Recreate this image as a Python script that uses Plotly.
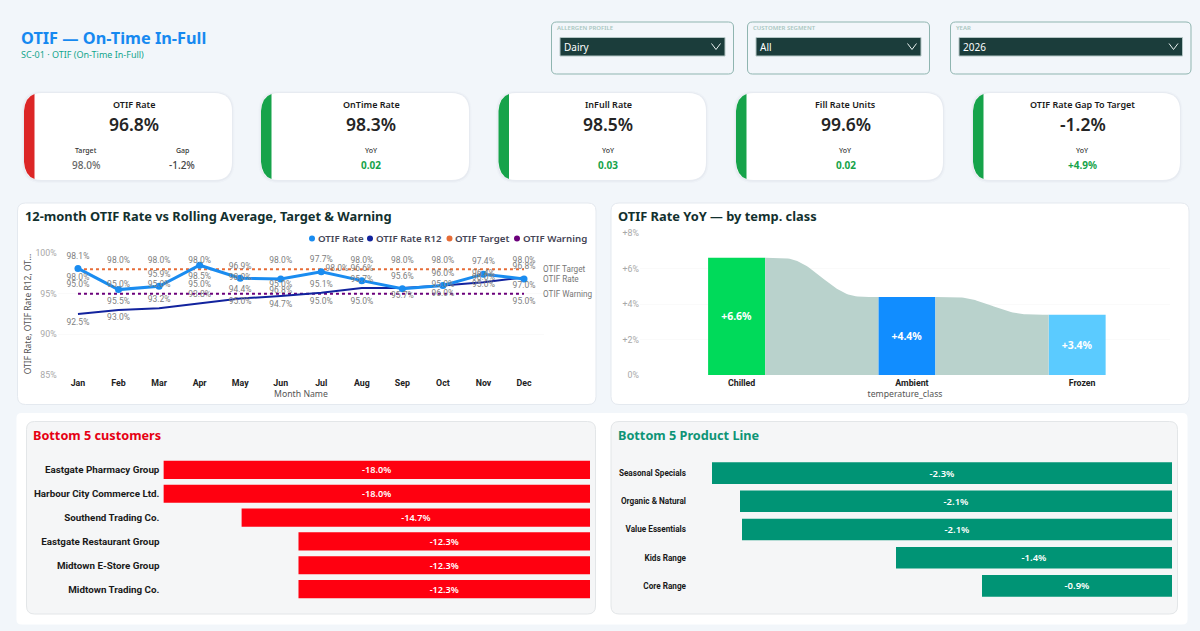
import numpy as np
import plotly.graph_objects as go

# ---------- data ----------
months = ["Jan", "Feb", "Mar", "Apr", "May", "Jun", "Jul", "Aug", "Sep", "Oct", "Nov", "Dec"]
otif_rate = [98.1, 95.5, 95.9, 98.5, 96.9, 96.8, 97.7, 96.6, 95.6, 96.0, 97.4, 96.8]
otif_r12 = [92.5, 93.0, 93.2, 93.8, 94.4, 94.7, 95.1, 95.7, 95.7, 96.0, 96.4, 97.0]
otif_target = [98.0] * 12
otif_warning = [95.0] * 12

temp_classes = ["Chilled", "Ambient", "Frozen"]
temp_yoy = [6.6, 4.4, 3.4]

customers = ["Eastgate Pharmacy Group", "Harbour City Commerce Ltd.", "Southend Trading Co.",
             "Eastgate Restaurant Group", "Midtown E-Store Group", "Midtown Trading Co."]
customer_vals = [-18.0, -18.0, -14.7, -12.3, -12.3, -12.3]

product_lines = ["Seasonal Specials", "Organic & Natural", "Value Essentials", "Kids Range", "Core Range"]
product_vals = [-2.3, -2.16, -2.15, -1.38, -0.95]
product_labels = ["-2.3%", "-2.1%", "-2.1%", "-1.4%", "-0.9%"]

kpi_titles = ["OTIF Rate", "OnTime Rate", "InFull Rate", "Fill Rate Units", "OTIF Rate Gap To Target"]
kpi_values = ["96.8%", "98.3%", "98.5%", "99.6%", "-1.2%"]
kpi_yoy = [None, "0.02", "0.03", "0.02", "+4.9%"]

filter_labels = ["ALLERGEN PROFILE", "CUSTOMER SEGMENT", "YEAR"]
filter_values = ["Dairy", "All", "2026"]

# ---------- layout helpers ----------
W, H = 1200, 631
FONT = "Noto Sans"
NARROW = "Roboto"
px = lambda v: v / W
py = lambda v: 1 - v / H
shapes, annots = [], []


def rrect(x0, y0, x1, y1, r, fill, line=None, lw=1):
    p = (f"M {px(x0 + r)} {py(y0)} L {px(x1 - r)} {py(y0)} Q {px(x1)} {py(y0)} {px(x1)} {py(y0 + r)} "
         f"L {px(x1)} {py(y1 - r)} Q {px(x1)} {py(y1)} {px(x1 - r)} {py(y1)} L {px(x0 + r)} {py(y1)} "
         f"Q {px(x0)} {py(y1)} {px(x0)} {py(y1 - r)} L {px(x0)} {py(y0 + r)} Q {px(x0)} {py(y0)} {px(x0 + r)} {py(y0)} Z")
    shapes.append(dict(type="path", path=p, xref="paper", yref="paper", fillcolor=fill, layer="below",
                       line=dict(color=line or "rgba(0,0,0,0)", width=lw if line else 0)))


def band(x0, y0, y1, w, r, fill):
    p = (f"M {px(x0 + w)} {py(y0 + 1)} Q {px(x0 + 1)} {py(y0 + 4)} {px(x0)} {py(y0 + r)} L {px(x0)} {py(y1 - r)} "
         f"Q {px(x0 + 1)} {py(y1 - 4)} {px(x0 + w)} {py(y1 - 1)} Z")
    shapes.append(dict(type="path", path=p, xref="paper", yref="paper", fillcolor=fill, layer="below",
                       line=dict(width=0, color="rgba(0,0,0,0)")))


def txt(x, y, s, size, color, weight=400, anchor="center", family=FONT):
    annots.append(dict(text=s, x=px(x), y=py(y), xref="paper", yref="paper", showarrow=False,
                       xanchor=anchor, yanchor="middle", borderpad=0, borderwidth=0,
                       font=dict(family=family, size=size, color=color, weight=weight)))


# ---------- header ----------
txt(21, 38, "OTIF — On-Time In-Full", 16.3, "#1789F0", 700, "left")
txt(21, 54.5, "SC-01 · OTIF (On-Time In-Full)", 9, "#12A58C", 400, "left")

# ---------- filters ----------
filter_boxes = [(551.5, 733.5, 560, 725), (747.5, 929.5, 756, 921), (950.5, 1191, 959, 1182.5)]
for (x0, x1, bx0, bx1), lab, val in zip(filter_boxes, filter_labels, filter_values):
    rrect(x0, 22, x1, 74, 5, "rgba(255,255,255,0)", "#8FB5B0", 1)
    shapes.append(dict(type="rect", xref="paper", yref="paper", x0=px(bx0), x1=px(bx1), y0=py(37.5), y1=py(56),
                       fillcolor="#1B3D3B", line=dict(color="#B4C6C5", width=1), layer="below"))
    txt(x0 + 5.5, 28, lab, 6, "#A9C6C0", 600, "left")
    txt(bx0 + 3.5, 47.5, val, 10, "#FFFFFF", 400, "left")
    cx = bx1 - 9
    shapes.append(dict(type="path", xref="paper", yref="paper",
                       path=f"M {px(cx - 4.5)} {py(43.5)} L {px(cx)} {py(49.5)} L {px(cx + 4.5)} {py(43.5)}",
                       line=dict(color="#E8F0EF", width=1), fillcolor="rgba(0,0,0,0)"))

# ---------- KPI cards ----------
card_x = [(24, 232), (261, 469), (498.5, 706), (736, 943), (973, 1180)]
for i, ((x0, x1), title, value, yoy) in enumerate(zip(card_x, kpi_titles, kpi_values, kpi_yoy)):
    rrect(x0 - 2.5, 91, x1 + 2.5, 183, 20, "rgba(60,70,80,0.02)")
    rrect(x0 - 1.2, 92, x1 + 1.2, 181.8, 19, "rgba(60,70,80,0.035)")
    rrect(x0, 93, x1, 180, 18, "#FFFFFF")
    band(x0, 93, 180, 10.5, 18, "#DC2626" if i == 0 else "#16A34A")
    c = 134 if i == 0 else (x0 + x1) / 2 + 6
    txt(c, 105, title, 9, "#1A1A1A", 600)
    txt(c, 124, value, 17.5, "#252525", 600)
    if i == 0:
        txt(86, 151, "Target", 7, "#333333", 500)
        txt(86, 165, "98.0%", 10, "#666666", 500)
        txt(182.5, 151, "Gap", 7, "#333333", 500)
        txt(182.5, 165, "-1.2%", 10, "#444444", 500)
    else:
        txt(c, 151, "YoY", 7, "#333333", 500)
        txt(c, 165, yoy, 10, "#16A34A", 700)

# ---------- panels ----------
rrect(17.5, 203, 596, 404.5, 8, "#FFFFFF", "#E4E9EF", 1)
rrect(611, 203, 1189, 404.5, 8, "#FFFFFF", "#E4E9EF", 1)
rrect(16.5, 413, 1187.5, 624.5, 5, "#FFFFFF")
rrect(26.5, 421.5, 595.5, 614, 8, "#F5F6F7", "#E3E6E8", 1)
rrect(611, 421.5, 1177.5, 614, 8, "#F5F6F7", "#E3E6E8", 1)
txt(24.5, 216, "12-month OTIF Rate vs Rolling Average, Target & Warning", 12.85, "#12302E", 700, "left")
txt(618, 216, "OTIF Rate YoY — by temp. class", 12.85, "#12302E", 700, "left")
txt(33, 435, "Bottom 5 customers", 12.7, "#E60012", 700, "left")
txt(618, 435, "Bottom 5 Product Line", 12.7, "#0E9476", 700, "left")

# ---------- line chart ----------
C_RATE, C_R12, C_TGT, C_WARN = "#1A8CF0", "#12239E", "#E66C37", "#6B007B"
T, B, R = "top center", "bottom center", "middle right"
rate_pos = [T, B, T, B, T, B, T, T, T, T, T, T]
r12_pos = [B, B, T, T, T, B, T, T, B, B, T, B]
tgt_pos = [B, T, T, T, B, T, R, T, T, T, B, T]
warn_pos = [T, T, T, T, B, T, B, B, T, T, T, B]
LBL = dict(family=NARROW, size=8.5, color="#808080")


def pct(vals, skip=()):
    return ["" if i in skip else f"{v:.1f}%" for i, v in enumerate(vals)]


fig = go.Figure()
series = [
    ("OTIF Target", otif_target, C_TGT, 2, "3px 3px", tgt_pos, (), 5, 0),
    ("OTIF Warning", otif_warning, C_WARN, 2, "3px 3px", warn_pos, (8,), 5, 0),
    ("OTIF Rate R12", otif_r12, C_R12, 2, "solid", r12_pos, (), 5, 0),
    ("OTIF Rate", otif_rate, C_RATE, 3, "solid", rate_pos, (), 10.5, 7),
]
for name, vals, color, width, dash, pos, skip, _, msize in series:
    fig.add_trace(go.Scatter(x=months, y=vals, name=name, mode="lines+markers" if msize else "lines",
                             showlegend=False, line=dict(color=color, width=width, dash=dash),
                             marker=dict(color=color, size=msize or 6)))
for name, vals, color, width, dash, pos, skip, lsize, msize in series:
    fig.add_trace(go.Scatter(x=months, y=vals, name=name + " labels", mode="markers+text", text=pct(vals, skip),
                             textposition=pos, textfont=LBL, cliponaxis=False, showlegend=False,
                             marker=dict(color="rgba(0,0,0,0)", size=lsize), hoverinfo="skip"))
for name, y_val in [("OTIF Target", otif_target[-1]), ("OTIF Rate", otif_rate[-1]), ("OTIF Warning", otif_warning[-1])]:
    annots.append(dict(text=name, x="Dec", y=y_val, xref="x", yref="y", showarrow=False, xanchor="left",
                       xshift=19, yanchor="middle", borderpad=0, borderwidth=0,
                       font=dict(family=NARROW, size=8.2, color="#777777")))

legend_items = [("OTIF Rate", C_RATE, 312), ("OTIF Rate R12", C_R12, 370),
                ("OTIF Target", C_TGT, 449.5), ("OTIF Warning", C_WARN, 517)]
for name, color, x in legend_items:
    shapes.append(dict(type="circle", xref="paper", yref="paper", x0=px(x - 3), x1=px(x + 3),
                       y0=py(241.5), y1=py(235.5), fillcolor=color, line=dict(width=0, color=color)))
    txt(x + 5.5, 238.5, name, 9.7, "#444455", 600, "left")

# ---------- ribbon chart ----------
BAR_W, BAR_OFF = 0.335, -0.197
RIBBON = "#B9D2CC"
for i in range(len(temp_yoy) - 1):
    x0 = i + BAR_OFF + BAR_W
    x1 = i + 1 + BAR_OFF
    t = np.linspace(0, 1, 61)
    e = np.clip((t - 0.1) / 0.8, 0, 1)
    ease = 6 * e ** 5 - 15 * e ** 4 + 10 * e ** 3
    fig.add_trace(go.Scatter(x=x0 + (x1 - x0) * t, y=temp_yoy[i] + (temp_yoy[i + 1] - temp_yoy[i]) * ease,
                             mode="lines", line=dict(width=0, color=RIBBON),
                             fill="tozeroy", fillcolor=RIBBON, hoverinfo="skip", showlegend=False,
                             xaxis="x2", yaxis="y2"))
fig.add_trace(go.Bar(x=[0, 1, 2], y=temp_yoy, width=BAR_W, offset=BAR_OFF, xaxis="x2", yaxis="y2",
                     marker=dict(color=["#00DA5A", "#118DFF", "#5BCBFF"], line=dict(width=0)),
                     texttemplate="+%{y:.1f}%", textposition="inside", insidetextanchor="middle", textangle=0,
                     textfont=dict(family=FONT, size=10.5, color="#FFFFFF", weight=700), showlegend=False))

# ---------- bottom bars ----------
fig.add_trace(go.Bar(x=customer_vals, y=customers, orientation="h", xaxis="x3", yaxis="y3",
                     marker=dict(color="#FF0010", line=dict(width=0)), texttemplate="%{x:.1f}%",
                     textposition="inside", insidetextanchor="middle", textangle=0,
                     textfont=dict(family=FONT, size=10.5, color="#FFFFFF", weight=600), showlegend=False))
fig.add_trace(go.Bar(x=product_vals, y=product_lines, orientation="h", xaxis="x4", yaxis="y4",
                     marker=dict(color="#009475", line=dict(width=0)), text=product_labels,
                     textposition="inside", insidetextanchor="middle", textangle=0,
                     textfont=dict(family=FONT, size=9.5, color="#FFFFFF", weight=600), showlegend=False))

GRID = "#FAFAFA"
TICK_DARK = dict(family=NARROW, size=8.8, color="#222222", weight=700)
TICK_GREY = dict(family=NARROW, size=8.8, color="#A8A8A8")
TITLE_F = dict(family=FONT, size=8.7, color="#555555")

fig.update_layout(
    template="none",
    width=W, height=H, autosize=False, margin=dict(l=0, r=0, t=0, b=0, pad=0),
    paper_bgcolor="#F2F6FA", plot_bgcolor="rgba(0,0,0,0)", showlegend=False, barmode="overlay",
    shapes=shapes, annotations=annots, font=dict(family=FONT),
    xaxis=dict(domain=[px(57.7), px(544.3)], range=[-0.5, 11.5], type="category", showgrid=False, zeroline=False,
               tickfont=TICK_DARK, ticklen=0, ticklabelstandoff=1,
               title=dict(text="Month Name", font=TITLE_F, standoff=3), anchor="y"),
    yaxis=dict(domain=[py(375), py(253)], range=[85, 100], tickvals=[85, 90, 95, 100],
               ticktext=["85%", "90%", "95%", "100%"],
               gridcolor=GRID, zeroline=False, tickfont=TICK_GREY, ticklen=0, anchor="x",
               title=dict(text="OTIF Rate, OTIF Rate R12, OT...", font=dict(family=FONT, size=8.5, color="#555555"), standoff=2)),
    xaxis2=dict(domain=[px(640), px(1170)], range=[-0.597, 2.516], tickvals=[0, 1, 2], ticktext=temp_classes,
                showgrid=False, zeroline=False, tickfont=TICK_DARK, ticklen=0, ticklabelstandoff=1, anchor="y2",
                title=dict(text="temperature_class", font=TITLE_F, standoff=3)),
    yaxis2=dict(domain=[py(375), py(233)], range=[0, 8], tickvals=[0, 2, 4, 6, 8],
                ticktext=["0%", "+2%", "+4%", "+6%", "+8%"], gridcolor=GRID, zeroline=False,
                tickfont=TICK_GREY, ticklen=0, anchor="x2"),
    xaxis3=dict(domain=[px(163.4), px(590)], range=[-18, 0], visible=False, anchor="y3"),
    yaxis3=dict(domain=[py(601), py(458)], type="category", autorange="reversed", showgrid=False, zeroline=False,
                showline=False, tickfont=dict(family=NARROW, size=9.8, color="#1A1A1A", weight=700), ticklen=0,
                ticklabelstandoff=3, anchor="x3"),
    xaxis4=dict(domain=[px(712), px(1172)], range=[-2.3, 0], visible=False, anchor="y4"),
    yaxis4=dict(domain=[py(600), py(459)], type="category", autorange="reversed", showgrid=False, zeroline=False,
                showline=False, tickfont=dict(family=NARROW, size=8.2, color="#1A1A1A", weight=700), ticklen=0,
                ticklabelstandoff=25, anchor="x4"),
    bargap=0.235,
)

fig.write_html("out.html", config={"displayModeBar": False},
               post_script="document.body.style.margin='0';document.body.style.overflow='hidden';")
